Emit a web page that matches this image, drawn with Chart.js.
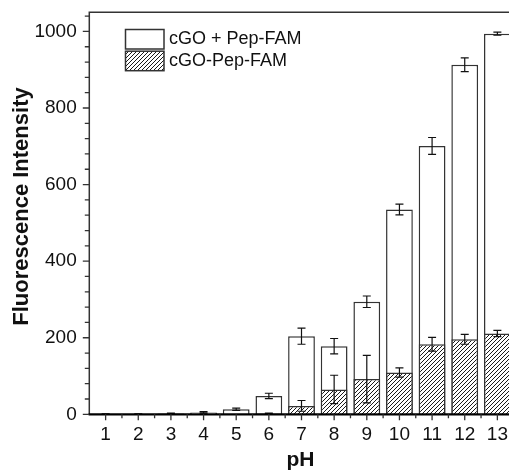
<!DOCTYPE html>
<html>
<head>
<meta charset="utf-8">
<script src="https://cdn.jsdelivr.net/npm/chart.js@4.4.1/dist/chart.umd.min.js"></script>
<style>
html,body{margin:0;padding:0;background:#fff;overflow:hidden;width:509px;height:472px;}
#wrap{position:absolute;left:0;top:0;width:525px;height:472px;}
</style>
</head>
<body>
<div id="wrap"><canvas id="c" width="525" height="472"></canvas></div>
<script>
// ---- data ----
const categories = ['1','2','3','4','5','6','7','8','9','10','11','12','13'];
const mixValues   = [1, 1, 2, 5, 13, 48, 204, 178, 294, 535, 701, 913, 994];
const mixErrors   = [0.5, 0.5, 1, 2, 3, 7, 21, 20, 15, 14, 22, 18, 4];
const conjValues  = [0, 0, 0, 0, 0, 2, 22, 65, 92, 109, 183, 196, 211];
const conjErrors  = [0, 0, 0, 0, 0, 1, 14, 37, 62, 12, 18, 13, 8];
const yTickValues = [0, 200, 400, 600, 800, 1000];
const seriesNames = ['cGO + Pep-FAM', 'cGO-Pep-FAM'];
const xTitle = 'pH';
const yTitle = 'Fluorescence Intensity';

const FONT = '"Liberation Sans", Arial, Helvetica, sans-serif';
const canvas = document.getElementById('c');
const ctx = canvas.getContext('2d');

// hatch pattern
const pc = document.createElement('canvas');
pc.width = 4; pc.height = 4;
const p = pc.getContext('2d');
p.fillStyle = '#fff'; p.fillRect(0,0,4,4);
p.strokeStyle = '#1a1a1a'; p.lineWidth = 1;
p.beginPath();
p.moveTo(-1,5); p.lineTo(5,-1);
p.moveTo(-1,1); p.lineTo(1,-1);
p.moveTo(3,5); p.lineTo(5,3);
p.stroke();
const hatch = ctx.createPattern(pc, 'repeat');

const AREA = {left: 89.3, right: 513.7, top: 12.3, bottom: 414.3};

const decor = {
  id: 'decor',
  afterDatasetsDraw(chart) {
    const c = chart.ctx;
    const xs = chart.scales.x, ys = chart.scales.y;
    const a = chart.chartArea;
    c.save();
    // error bars
    const drawErr = (vals, errs) => {
      c.strokeStyle = '#111'; c.lineWidth = 1.2;
      vals.forEach((v, i) => {
        const e = errs[i];
        if (!e) return;
        const x = xs.getPixelForValue(i);
        const y1 = ys.getPixelForValue(v + e), y2 = ys.getPixelForValue(Math.max(0, v - e));
        c.beginPath();
        c.moveTo(x, y1); c.lineTo(x, y2);
        c.moveTo(x - 4, y1); c.lineTo(x + 4, y1);
        c.moveTo(x - 4, y2); c.lineTo(x + 4, y2);
        c.stroke();
      });
    };
    drawErr(mixValues, mixErrors);
    drawErr(conjValues, conjErrors);

    // frame
    c.strokeStyle = '#333'; c.lineWidth = 1.5;
    c.beginPath();
    c.moveTo(a.left, a.bottom); c.lineTo(a.left, a.top); c.lineTo(a.right, a.top); c.lineTo(a.right, a.bottom);
    c.stroke();
    c.strokeStyle = '#000'; c.lineWidth = 2.2;
    c.beginPath(); c.moveTo(a.left - 0.7, a.bottom); c.lineTo(a.right, a.bottom); c.stroke();

    // y ticks
    c.strokeStyle = '#333'; c.lineWidth = 1.3;
    c.beginPath();
    for (let v = 0; v <= 1040; v += 40) {
      const y = ys.getPixelForValue(v);
      const major = v % 200 === 0;
      c.moveTo(a.left - (major ? 6.5 : 4.5), y); c.lineTo(a.left, y);
    }
    // x ticks
    for (let i = 0; i < categories.length; i++) {
      const x = xs.getPixelForValue(i);
      c.moveTo(x, a.bottom); c.lineTo(x, a.bottom + 6);
      const xm = x + (xs.getPixelForValue(1) - xs.getPixelForValue(0)) / 2;
      c.moveTo(xm, a.bottom); c.lineTo(xm, a.bottom + 4);
    }
    c.stroke();

    // legend
    c.lineWidth = 1.5; c.strokeStyle = '#333';
    c.fillStyle = '#fff';
    c.fillRect(125.5, 29.5, 38.5, 19.5); c.strokeRect(125.5, 29.5, 38.5, 19.5);
    c.fillStyle = hatch;
    c.fillRect(125.5, 51.2, 38.5, 19.5); c.strokeRect(125.5, 51.2, 38.5, 19.5);
    c.fillStyle = '#111';
    c.font = '18px ' + FONT;
    c.textAlign = 'left'; c.textBaseline = 'middle';
    c.fillText(seriesNames[0], 169, 39.5);
    c.fillText(seriesNames[1], 169, 61.5);

    // axis titles
    c.font = 'bold 22px ' + FONT;
    c.textAlign = 'center'; c.textBaseline = 'middle';
    c.save();
    c.translate(21.6, 206.5);
    c.rotate(-Math.PI / 2);
    c.fillText(yTitle, 0, 0);
    c.restore();
    c.font = 'bold 21px ' + FONT;
    c.fillText(xTitle, 300.5, 460.5);
    c.restore();
  }
};

new Chart(ctx, {
  type: 'bar',
  data: {
    labels: categories,
    datasets: [
      {label: seriesNames[0], data: mixValues, backgroundColor: '#fff', borderColor: '#333', borderWidth: 1.5, order: 2,
       barPercentage: 0.82, categoryPercentage: 1},
      {label: seriesNames[1], data: conjValues, backgroundColor: hatch, borderColor: '#333', borderWidth: 1.5, order: 1,
       barPercentage: 0.82, categoryPercentage: 1}
    ]
  },
  options: {
    responsive: false,
    animation: false,
    layout: {padding: {top: AREA.top, right: 525 - AREA.right, left: 0, bottom: 0}},
    plugins: {legend: {display: false}, tooltip: {enabled: false}},
    scales: {
      x: {
        stacked: true,
        grid: {display: false, drawTicks: false},
        border: {display: false},
        ticks: {font: {family: FONT, size: 19}, color: '#111', padding: 9, maxRotation: 0, autoSkip: false},
        afterFit(s) { s.height = 472 - AREA.bottom; s.paddingLeft = 0; s.paddingRight = 0; }
      },
      y: {
        stacked: false,
        min: 0, max: 1050,
        afterBuildTicks(s) { s.ticks = yTickValues.map(v => ({value: v})); },
        grid: {display: false, drawTicks: false},
        border: {display: false},
        ticks: {font: {family: FONT, size: 19}, color: '#111', padding: 12.6,
                callback: (v) => String(v)},
        afterFit(s) { s.width = AREA.left; s.paddingTop = 0; s.paddingBottom = 0; }
      }
    }
  },
  plugins: [decor]
});
</script>
</body>
</html>
